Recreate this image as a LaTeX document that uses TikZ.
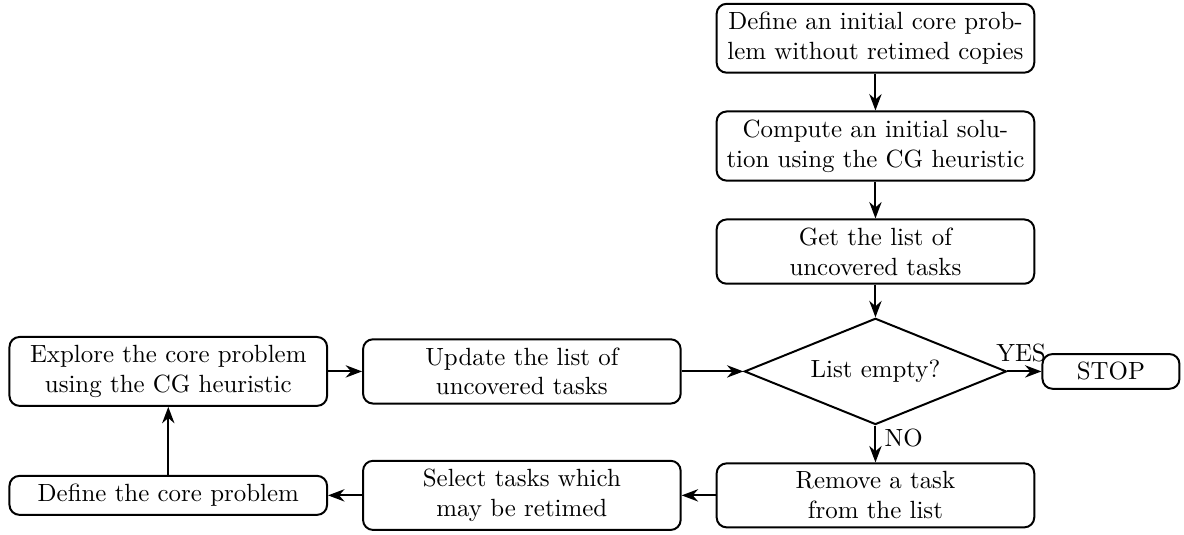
\documentclass[tikz,border=0pt]{standalone}
\usetikzlibrary{arrows.meta, positioning, shapes.geometric}

\begin{document}
\begin{tikzpicture}[>=Stealth, node distance=0.52cm and 0.48cm,
    block/.style={draw, thick, rounded corners, text width=4.25cm, align=center},
    decision/.style={draw, thick, diamond, aspect=2.5, minimum width=3.7cm, minimum height=1.5cm, inner sep=1pt},
    stopbox/.style={block, text width=1.7cm},
    flow/.style={->, thick}]

    % ================= Main column =================
    \node[block] (init) {Define an initial core prob-\\lem without retimed copies};
    \node[block, below=of init] (compute) {Compute an initial solu-\\tion using the CG heuristic};
    \node[block, below=of compute] (getlist) {Get the list of\\uncovered tasks};
    \node[decision, below=0.46cm of getlist] (decide) {List empty?};
    \node[stopbox, right=of decide] (stop) {STOP};
    \node[block, below=of decide] (remove) {Remove a task\\from the list};

    % ================= Loop on the left =================
    \node[block, left=of remove] (select) {Select tasks which\\may be retimed};
    \node[block, left=of select] (defcore) {Define the core problem};
    \node[block] (explore) at (defcore |- decide) {Explore the core problem\\using the CG heuristic};
    \node[block] (update) at (select |- decide) {Update the list of\\uncovered tasks};

    % ================= Connectors =================
    \draw[flow] (init) -- (compute);
    \draw[flow] (compute) -- (getlist);
    \draw[flow] (getlist) -- (decide);
    \draw[flow] (decide) -- node[pos=0.4, above] {YES} (stop);
    \draw[flow] (decide) -- node[pos=0.35, right] {NO} (remove);
    \draw[flow] (remove) -- (select);
    \draw[flow] (select) -- (defcore);
    \draw[flow] (defcore) -- (explore);
    \draw[flow] (explore) -- (update);
    \draw[flow] (update) -- (decide);

    % small margins round the picture
    \path ([shift={(-0.12,-0.05)}]current bounding box.south west) rectangle ([shift={(0.05,0.04)}]current bounding box.north east);
\end{tikzpicture}
\end{document}
